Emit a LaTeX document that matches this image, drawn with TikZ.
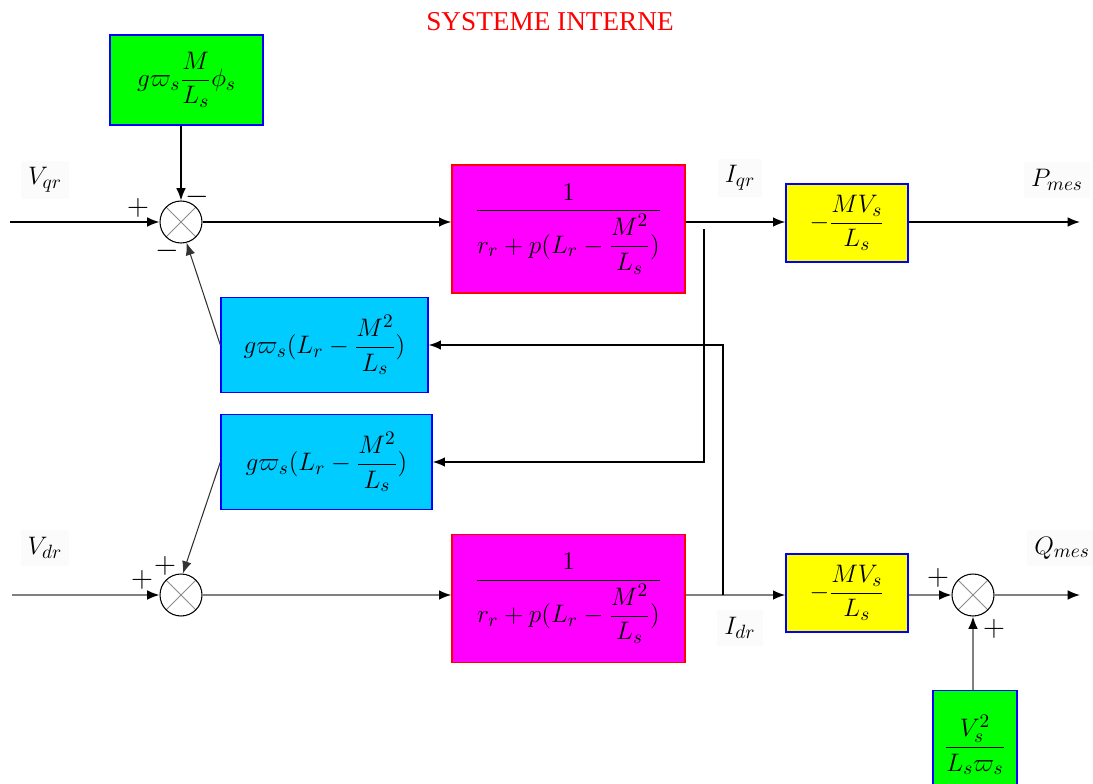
\documentclass[tikz,border=0pt]{standalone}
\usepackage{amsmath}
\usepackage[no-math]{fontspec}
\setmainfont{Liberation Serif}
\usetikzlibrary{arrows.meta, positioning, calc}
\definecolor{blockgreen}{RGB}{0,255,0}
\definecolor{blockmag}{RGB}{255,0,255}
\definecolor{blockyel}{RGB}{255,255,0}
\definecolor{blockcyan}{RGB}{0,204,255}
\definecolor{edgeblue}{RGB}{0,0,255}
\definecolor{edgered}{RGB}{255,0,0}

\begin{document}
\begin{tikzpicture}[x=0.02cm, y=-0.02cm,
  blk/.style={draw=edgeblue, line width=0.8pt, inner sep=0pt, font=\fontsize{15.5}{18}\selectfont},
  sumnode/.style={circle, draw, line width=0.6pt, minimum size=0.84cm, inner sep=0pt,
    path picture={\draw[black!45, line width=0.5pt]
      (path picture bounding box.north west) -- (path picture bounding box.south east)
      (path picture bounding box.north east) -- (path picture bounding box.south west);}},
  arr/.style={-{Latex[length=7pt,width=5.5pt,color=black]}, line width=0.9pt},
  greyarr/.style={arr, draw=black!50},
  fb/.style={-{Latex[length=7pt,width=5.5pt]}, line width=0.6pt, draw=black!80},
  sign/.style={font=\fontsize{19}{19}\selectfont, inner sep=0pt},
  lbl/.style={fill=black!1.5, inner sep=4pt, font=\fontsize{15}{18}\selectfont}]
  \useasboundingbox (0,0) rectangle (1093,784);

  \node[text=red, font=\fontsize{15.5}{18}\selectfont] (title) at (550,22) {SYSTEME INTERNE};

  \node[blk, fill=blockgreen, minimum width=3.06cm, minimum height=1.8cm] (g1) at (186.5,80)
    {$g\varpi_s\dfrac{M}{L_s}\phi_s$};
  \node[sumnode] (sum1) at (181,222) {};
  \node[blk, fill=blockmag, draw=edgered, minimum width=4.66cm, minimum height=2.56cm] (mag1) at (568.5,229)
    {$\dfrac{1}{r_r+p(L_r-\dfrac{M^2}{L_s})}$};
  \node[blk, fill=blockyel, minimum width=2.44cm, minimum height=1.56cm] (yel1) at (847,223)
    {$-\dfrac{MV_s}{L_s}$};
  \node[blk, fill=blockcyan, minimum width=4.14cm, minimum height=1.9cm] (cyan1) at (324.5,345)
    {$g\varpi_s(L_r-\dfrac{M^2}{L_s})$};
  \node[blk, fill=blockcyan, minimum width=4.22cm, minimum height=1.9cm] (cyan2) at (326.5,462)
    {$g\varpi_s(L_r-\dfrac{M^2}{L_s})$};
  \node[sumnode] (sum2) at (181,595) {};
  \node[blk, fill=blockmag, draw=edgered, minimum width=4.66cm, minimum height=2.56cm] (mag2) at (568.5,598.5)
    {$\dfrac{1}{r_r+p(L_r-\dfrac{M^2}{L_s})}$};
  \node[blk, fill=blockyel, minimum width=2.44cm, minimum height=1.56cm] (yel2) at (847,593)
    {$-\dfrac{MV_s}{L_s}$};
  \node[sumnode] (sum3) at (973,595) {};
  \node[blk, fill=blockgreen, minimum width=1.68cm, minimum height=2.3cm, anchor=north] (g2) at (975,690)
    {\raisebox{0.55cm}{$\dfrac{V_s^2}{L_s\varpi_s}$}};

  \node[lbl] (vqr) at (45,180) {$V_{qr}$};
  \node[lbl] (vdr) at (45,548) {$V_{dr}$};
  \node[lbl] (iqr) at (740,178) {$I_{qr}$};
  \node[lbl] (idr) at (740,628) {$I_{dr}$};
  \node[lbl] (pmes) at (1057,180) {$P_{mes}$};
  \node[lbl] (qmes) at (1062,548) {$Q_{mes}$};

  \node[sign] (s1a) at (138,208) {$+$};
  \node[sign] (s1b) at (197,197) {$-$};
  \node[sign] (s1c) at (167,251) {$-$};
  \node[sign] (s2a) at (142,580) {$+$};
  \node[sign] (s2b) at (165,566) {$+$};
  \node[sign] (s3a) at (938,578) {$+$};
  \node[sign] (s3b) at (994,629) {$+$};

  \coordinate (inq) at (10,222);
  \coordinate (ind) at (12,595);
  \coordinate (outp) at (1080,222);
  \coordinate (outq) at (1080,595);
  \coordinate (brq) at (704,229);
  \coordinate (brd) at (723,595);

  \draw[arr] (inq) -- (sum1);
  \draw[arr] (sum1.north |- g1.south) -- (sum1);
  \draw[arr] (sum1) -- (sum1 -| mag1.west);
  \draw[arr] (mag1.east |- sum1) -- (yel1.west |- sum1);
  \draw[arr] (yel1.east |- sum1) -- (outp);
  \draw[arr] (brq) |- (cyan2);
  \draw[fb] (cyan1.west) -- (sum1.-75);
  \draw[fb] (cyan2.west) -- (sum2.85);

  \draw[greyarr] (ind) -- (sum2);
  \draw[greyarr] (sum2) -- (sum2 -| mag2.west);
  \draw[greyarr] (mag2.east |- sum2) -- (yel2.west |- sum2);
  \draw[arr] (brd) |- (cyan1);
  \draw[greyarr] (yel2.east |- sum2) -- (sum3);
  \draw[greyarr] (sum3) -- (outq);
  \draw[greyarr] (sum3.south |- g2.north) -- (sum3);
\end{tikzpicture}
\end{document}
